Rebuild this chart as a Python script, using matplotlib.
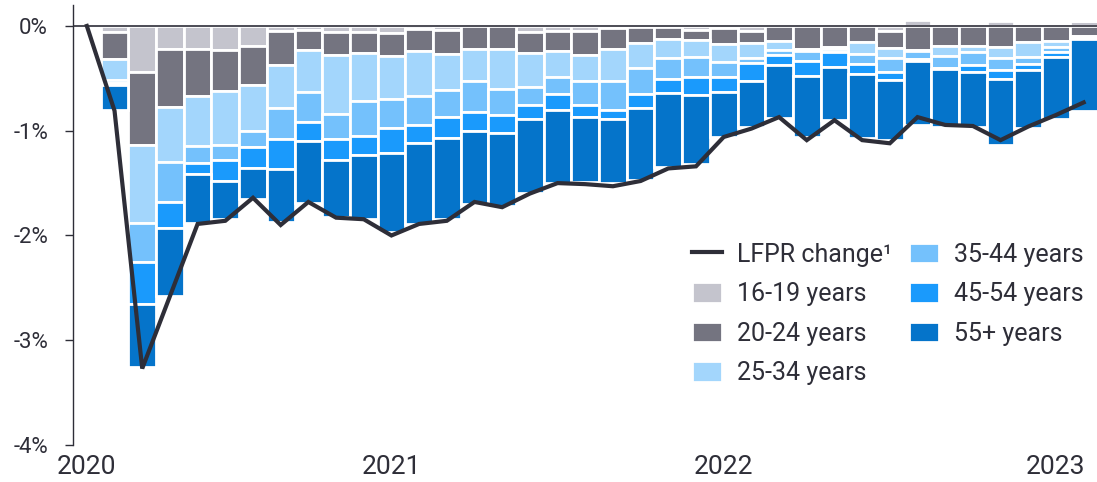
import numpy as np
import matplotlib
matplotlib.use("Agg")
import matplotlib.pyplot as plt

plt.rcParams['font.family'] = ['Roboto', 'DejaVu Sans']

# months: Feb 2020 .. Feb 2023 (line starts at 0 in Feb 2020, bars from Mar 2020)
months = [f"{y}-{m:02d}" for y in range(2020, 2024) for m in range(1, 13)][1:38]
year_ticks = {"2020-02": "2020", "2021-01": "2021", "2022-01": "2022", "2023-01": "2023"}

lfpr_change = [0.00, -0.81, -3.27, -2.58, -1.89, -1.86, -1.64, -1.90, -1.68, -1.83,
               -1.845, -2.00, -1.89, -1.86, -1.68, -1.73, -1.60, -1.50, -1.51, -1.53,
               -1.48, -1.36, -1.34, -1.06, -0.98, -0.87, -1.09, -0.90, -1.09, -1.12,
               -0.87, -0.945, -0.955, -1.09, -0.96, -0.85, -0.73]

# contributions by age group, Mar 2020 .. Feb 2023
age_16_19 = [-0.06, -0.44, -0.22, -0.22, -0.23, -0.19, -0.05, -0.04, -0.06, -0.06,
             -0.07, -0.03, -0.04, 0.00, 0.00, -0.06, -0.05, -0.05, -0.02, -0.01,
             -0.01, -0.04, -0.02, -0.05, 0.00, 0.00, 0.00, 0.00, -0.05, 0.06,
             0.00, 0.00, 0.05, 0.00, 0.01, 0.05]
age_20_24 = [-0.26, -0.70, -0.55, -0.45, -0.39, -0.37, -0.32, -0.19, -0.22, -0.20,
             -0.22, -0.21, -0.23, -0.22, -0.22, -0.20, -0.19, -0.23, -0.20, -0.15,
             -0.11, -0.09, -0.15, -0.11, -0.14, -0.22, -0.20, -0.15, -0.16, -0.23,
             -0.19, -0.19, -0.20, -0.15, -0.14, -0.10]
age_25_34 = [-0.20, -0.74, -0.53, -0.48, -0.52, -0.44, -0.41, -0.40, -0.56, -0.46,
             -0.41, -0.43, -0.34, -0.31, -0.38, -0.32, -0.25, -0.25, -0.31, -0.24,
             -0.19, -0.17, -0.17, -0.15, -0.09, -0.02, -0.02, -0.12, -0.10, -0.01,
             -0.10, -0.06, -0.11, -0.15, -0.06, -0.01]
age_35_44 = [-0.02, -0.37, -0.38, -0.16, -0.14, -0.16, -0.30, -0.29, -0.24, -0.33,
             -0.27, -0.28, -0.26, -0.29, -0.25, -0.17, -0.16, -0.22, -0.27, -0.25,
             -0.20, -0.19, -0.15, -0.04, -0.05, -0.09, -0.03, -0.09, -0.13, -0.08,
             -0.11, -0.12, -0.11, -0.06, -0.05, -0.01]
age_45_54 = [-0.02, -0.40, -0.25, -0.10, -0.20, -0.20, -0.29, -0.18, -0.20, -0.18,
             -0.24, -0.17, -0.20, -0.18, -0.17, -0.14, -0.15, -0.12, -0.09, -0.13,
             -0.13, -0.17, -0.14, -0.18, -0.09, -0.15, -0.14, -0.10, -0.08, -0.01,
             -0.01, -0.07, -0.09, -0.06, -0.05, 0.00]
age_55_plus = [-0.24, -0.61, -0.65, -0.47, -0.36, -0.29, -0.50, -0.59, -0.54, -0.61,
               -0.76, -0.77, -0.77, -0.70, -0.70, -0.70, -0.70, -0.62, -0.61, -0.69,
               -0.71, -0.66, -0.43, -0.43, -0.51, -0.58, -0.51, -0.61, -0.57, -0.62,
               -0.55, -0.52, -0.63, -0.55, -0.59, -0.69]

groups = ["16-19 years", "20-24 years", "25-34 years", "35-44 years", "45-54 years", "55+ years"]
colors = ["#C4C4CD", "#747480", "#A3D6FC", "#74C1FC", "#1A9AFC", "#0574CA"]
series = [age_16_19, age_20_24, age_25_34, age_35_44, age_45_54, age_55_plus]

text_col = "#2E2E38"

fig = plt.figure(figsize=(10.97, 4.82), dpi=100)
ax = fig.add_axes([73 / 1097, 37 / 482, 1024.5 / 1097, 440 / 482])

x_all = np.arange(len(months))
x_bar = x_all[1:]
neg_base = np.zeros(len(x_bar))
pos_base = np.zeros(len(x_bar))
bar_handles = []
for vals, col, lab in zip(series, colors, groups):
    v = np.array(vals)
    base = np.where(v < 0, neg_base, pos_base)
    b = ax.bar(x_bar, v, bottom=base, width=1.0, color=col, edgecolor="white",
               linewidth=2.0, label=lab, zorder=2)
    bar_handles.append(b)
    neg_base += np.minimum(v, 0)
    pos_base += np.maximum(v, 0)

line, = ax.plot(x_all, lfpr_change, color=text_col, linewidth=3, solid_joinstyle="miter",
                label="LFPR change¹", zorder=4)
ax.axhline(0, color=text_col, linewidth=1.2, zorder=3)

ax.set_xlim(-0.5, 36.5)
ax.set_ylim(-4, 0.2)
ax.set_yticks([0, -1, -2, -3, -4])
ax.set_yticklabels(["0%", "-1%", "-2%", "-3%", "-4%"])
tick_pos = [months.index(m) for m in year_ticks]
ax.set_xticks(tick_pos)
ax.set_xticklabels(list(year_ticks.values()))

for s in ["top", "right", "bottom"]:
    ax.spines[s].set_visible(False)
ax.spines["left"].set_color(text_col)
ax.spines["left"].set_linewidth(1.0)
ax.tick_params(axis="y", length=6, width=1, color=text_col, labelsize=16,
               labelcolor=text_col, pad=12)
ax.tick_params(axis="x", length=0, labelsize=19, labelcolor=text_col, pad=7)

handles = [line] + bar_handles
labels = ["LFPR change¹"] + groups
ax.legend(handles, labels, ncol=2,
          loc="upper left", bbox_to_anchor=(0.604, 0.46), frameon=False,
          fontsize=18, labelcolor=text_col, handlelength=1.2, handleheight=0.9,
          handletextpad=0.62, labelspacing=0.62, columnspacing=0.65, borderpad=0,
          borderaxespad=0)

fig.savefig("out.png", dpi=100)
